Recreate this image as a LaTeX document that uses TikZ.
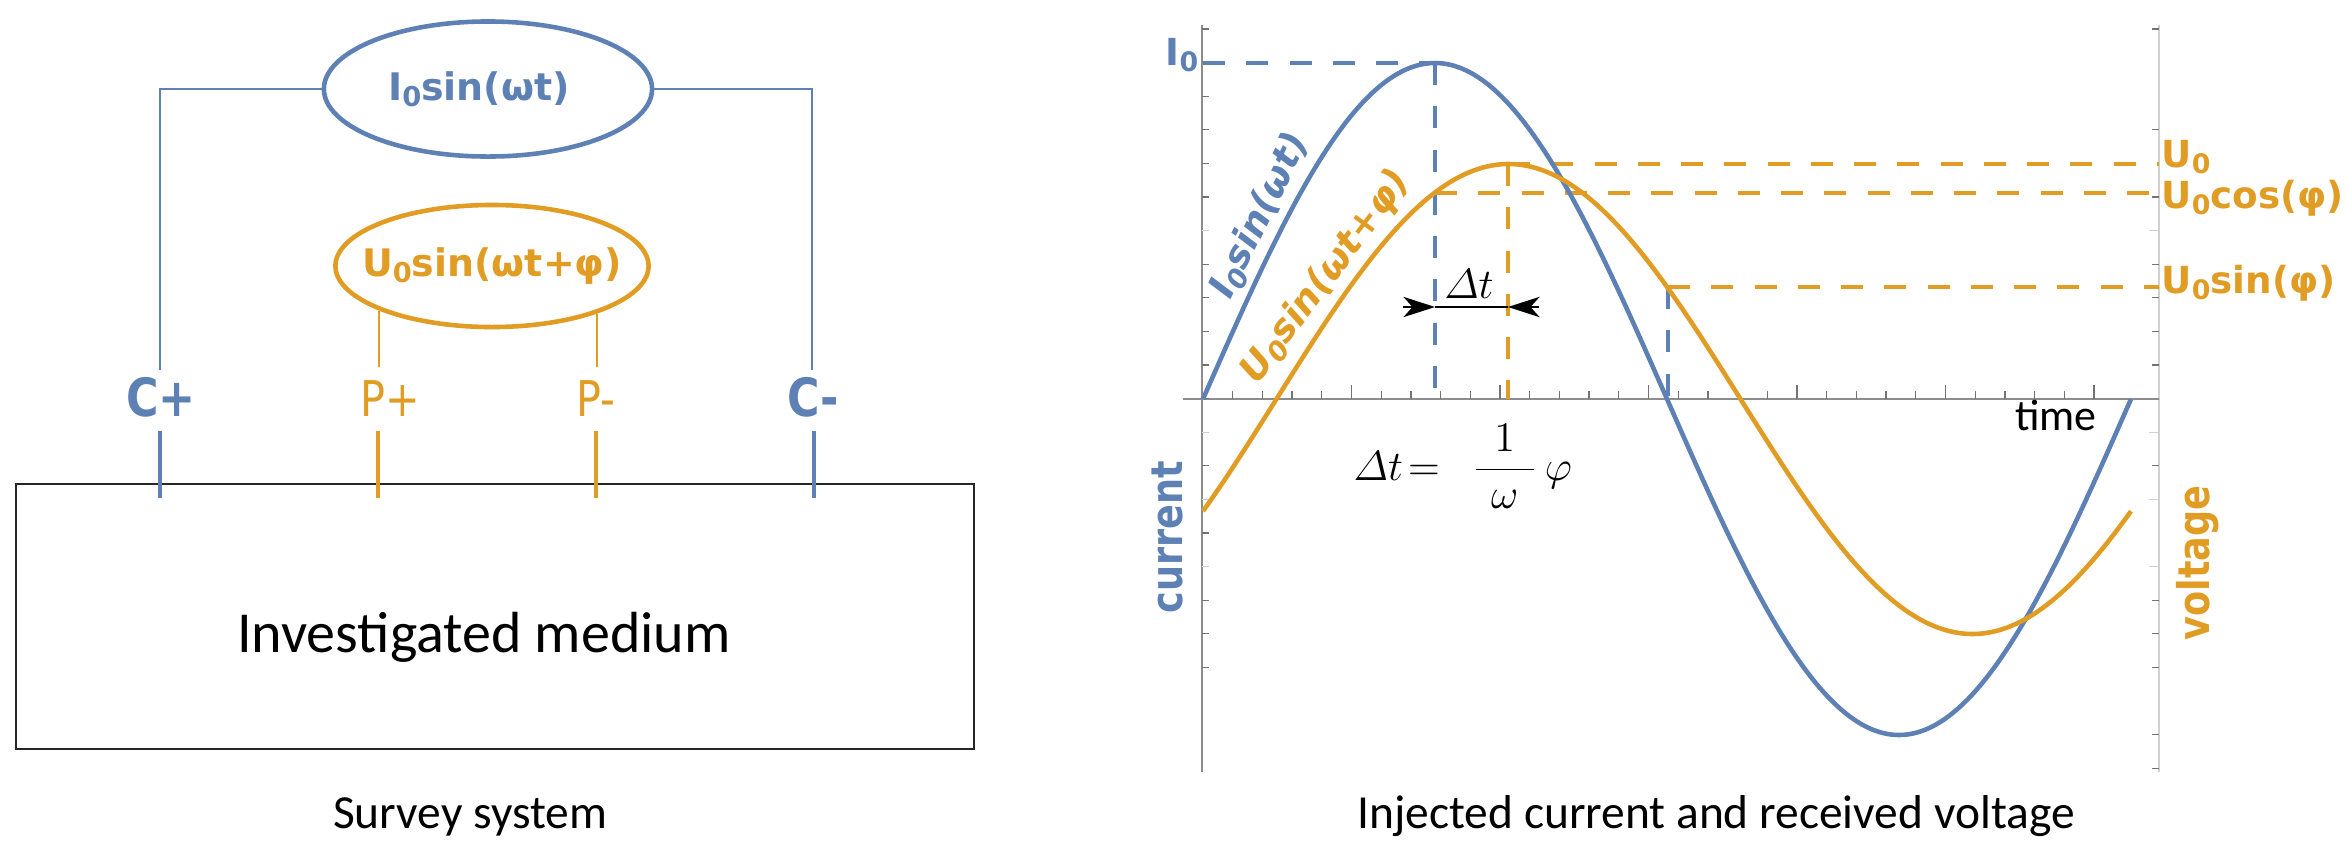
\documentclass[tikz,border=0pt]{standalone}
\usepackage{amsmath}
\usepackage{fontspec}
\setmainfont{Carlito}
\newfontfamily\tagfont[FakeStretch=0.84]{DejaVu Sans}
\newfontfamily\formfont{DejaVu Sans}
\usetikzlibrary{arrows.meta, positioning, shapes.geometric}
\definecolor{curblue}{HTML}{5E81B5}
\definecolor{voltorange}{HTML}{E19C24}
\newcommand{\subz}{\raisebox{-0.3ex}{\scalebox{0.72}{0}}}

\begin{document}
\begin{tikzpicture}[x=0.01cm, y=-0.01cm,
  src/.style={ellipse, line width=1.3pt, inner sep=0pt},
  srctext/.style={font=\formfont\bfseries\fontsize{10.8}{13}\selectfont, inner sep=0pt},
  wire/.style={line width=0.45pt},
  electrode/.style={line width=1.1pt},
  ctag/.style={anchor=base, inner sep=0pt, font=\tagfont\bfseries\fontsize{15}{18}\selectfont, text=curblue},
  ptag/.style={anchor=base, inner sep=0pt, font=\tagfont\fontsize{14}{17}\selectfont, text=voltorange},
  caption/.style={anchor=base, inner sep=0pt, font=\fontsize{13.5}{16}\selectfont},
  axisline/.style={line width=0.45pt, draw=black!45},
  tick/.style={line width=0.35pt, draw=black!55},
  lighttick/.style={line width=0.35pt, draw=black!18},
  wave/.style={line width=1.3pt},
  guide/.style={line width=1.15pt, dash pattern=on 6.3pt off 6pt},
  level/.style={anchor=base west, inner sep=0pt, font=\formfont\bfseries\fontsize{10.6}{13}\selectfont, text=voltorange},
  curvetag/.style={font=\formfont\bfseries\itshape\fontsize{10.6}{13}\selectfont, inner sep=0pt},
  axistag/.style={rotate=90, inner sep=0pt, font=\tagfont\bfseries\fontsize{12.4}{15}\selectfont},
  dtarrow/.style={-{Stealth[length=9pt, width=5.8pt, inset=2.6pt]}, line width=0.4pt}
]
\useasboundingbox (0,0) rectangle (2347,842);

% Survey system
\node[src, draw=curblue, minimum width=3.28cm, minimum height=1.35cm] (isrc) at (488,89) {};
\node[srctext, text=curblue] (isrctext) at ([xshift=-0.09cm]isrc.center) {I\subz sin(ωt)};
\node[src, draw=voltorange, minimum width=3.13cm, minimum height=1.22cm] (usrc) at (492,266) {};
\node[srctext, text=voltorange] (usrctext) at (usrc.center) {U\subz sin(ωt+φ)};

\coordinate (cplustop) at (160,370);
\coordinate (cminustop) at (812,370);
\coordinate (pplustop) at (379,367);
\coordinate (pminustop) at (597,367);
\draw[wire, curblue] (isrc.west) -| (cplustop);
\draw[wire, curblue] (isrc.east) -| (cminustop);
\draw[wire, voltorange] (pplustop) -- (pplustop |- usrc.-158);
\draw[wire, voltorange] (pminustop) -- (pminustop |- usrc.-25);

\node[ctag] (cplus) at (161,416) {C+};
\node[ptag] (pplus) at (390,416) {P+};
\node[ptag] (pminus) at (596,416) {P-};
\node[ctag] (cminus) at (813,416) {C-};

\draw[line width=0.6pt, black!85] (16,484) rectangle (974,749);
\draw[electrode, curblue] (160,431) -- (160,498);
\draw[electrode, voltorange] (378,431) -- (378,498);
\draw[electrode, voltorange] (596,431) -- (596,498);
\draw[electrode, curblue] (814,431) -- (814,498);
\node[anchor=base, inner sep=0pt, font=\fontsize{16.5}{20}\selectfont] (medium) at (484,652) {Investigated medium};
\node[caption] (leftcap) at (470,828) {Survey system};

% Axes and ticks
\draw[axisline] (1202,25) -- (1202,772);
\draw[axisline, draw=black!18] (2159,25) -- (2159,772);
\draw[axisline] (1183,399) -- (2159,399);
\foreach \k in {0,1,2,3,4,5,7,8,9,10,11,13,15,17,18,19}
  \draw[tick] (1202,{29+33.6*\k}) -- ++(7,0);
\foreach \k in {6,12,14,16}
  \draw[lighttick] (1202,{29+33.6*\k}) -- ++(7,0);
\foreach \k in {0,3,5,7,8,9,10,13,17,18,19,21,22}
  \draw[tick] (2159,{29+33.6*\k}) -- ++(-7,0);
\foreach \k in {6,12,14,16}
  \draw[lighttick] (2159,{29+33.6*\k}) -- ++(-10,0);
\foreach \i in {1,...,30}
  \draw[tick] ({1203+29.7*\i},399) -- ++(0,-8);
\foreach \i in {5,10,...,30}
  \draw[tick] ({1203+29.7*\i},399) -- ++(0,-14);

% Guide lines
\draw[guide, curblue] (1203,63) -- (1435,63);
\draw[guide, curblue] (1435,63) -- (1435,399);
\draw[guide, voltorange] (1508,164) -- (1508,399);
\draw[guide, voltorange] (1508,164) -- (2159,164);
\draw[guide, voltorange] (1435,193) -- (2159,193);
\draw[guide, voltorange] (1668,287) -- (2159,287);
\draw[guide, curblue] (1668,287) -- (1668,399);

% Waveforms
\draw[wave, curblue] plot[domain=1203:2131, samples=160, smooth] (\x, {399-336*sin((\x-1203)/928*360)});
\draw[wave, voltorange] plot[domain=1203:2131, samples=160, smooth] (\x, {399-235*sin((\x-1203)/928*360-28.5)});

% Phase shift
\draw[dtarrow] (1403,307) -- (1435,307);
\draw[line width=0.4pt] (1435,307) -- (1508,307);
\draw[dtarrow] (1539,307) -- (1508,307);
\node[anchor=base, inner sep=0pt, font=\fontsize{11.5}{14}\selectfont] (dtlabel) at (1469,298) {$\varDelta t$};
\node[anchor=base west, inner sep=0pt, font=\fontsize{12.5}{15}\selectfont] (dtformula) at (1353,480)
  {$\displaystyle \varDelta t\!=\hspace{0.45em}\frac{1}{\hspace{0.35em}\omega\hspace{0.35em}}\,\varphi$};

% Labels
\node[curvetag, text=curblue, rotate=64] (iwavetag) at (1260,216) {I\subz sin(ωt)};
\node[curvetag, text=voltorange, rotate=53] (uwavetag) at (1326,277) {U\subz sin(ωt+φ)};
\node[anchor=base east, inner sep=0pt, font=\formfont\bfseries\fontsize{10.6}{13}\selectfont, text=curblue] (izero) at (1199,65) {I\subz};
\node[level] (uzero) at (2161,167) {U\subz};
\node[level] (ucos) at (2161,208) {U\subz cos(φ)};
\node[level] (usin) at (2161,293) {U\subz sin(φ)};
\node[axistag, text=curblue] (curtag) at (1167,537) {current};
\node[axistag, text=voltorange] (volttag) at (2198,563) {voltage};
\node[anchor=base, inner sep=0pt, font=\fontsize{12.5}{15}\selectfont] (timetag) at (2056,430) {time};
\node[caption] (rightcap) at (1716,828) {Injected current and received voltage};
\end{tikzpicture}
\end{document}
